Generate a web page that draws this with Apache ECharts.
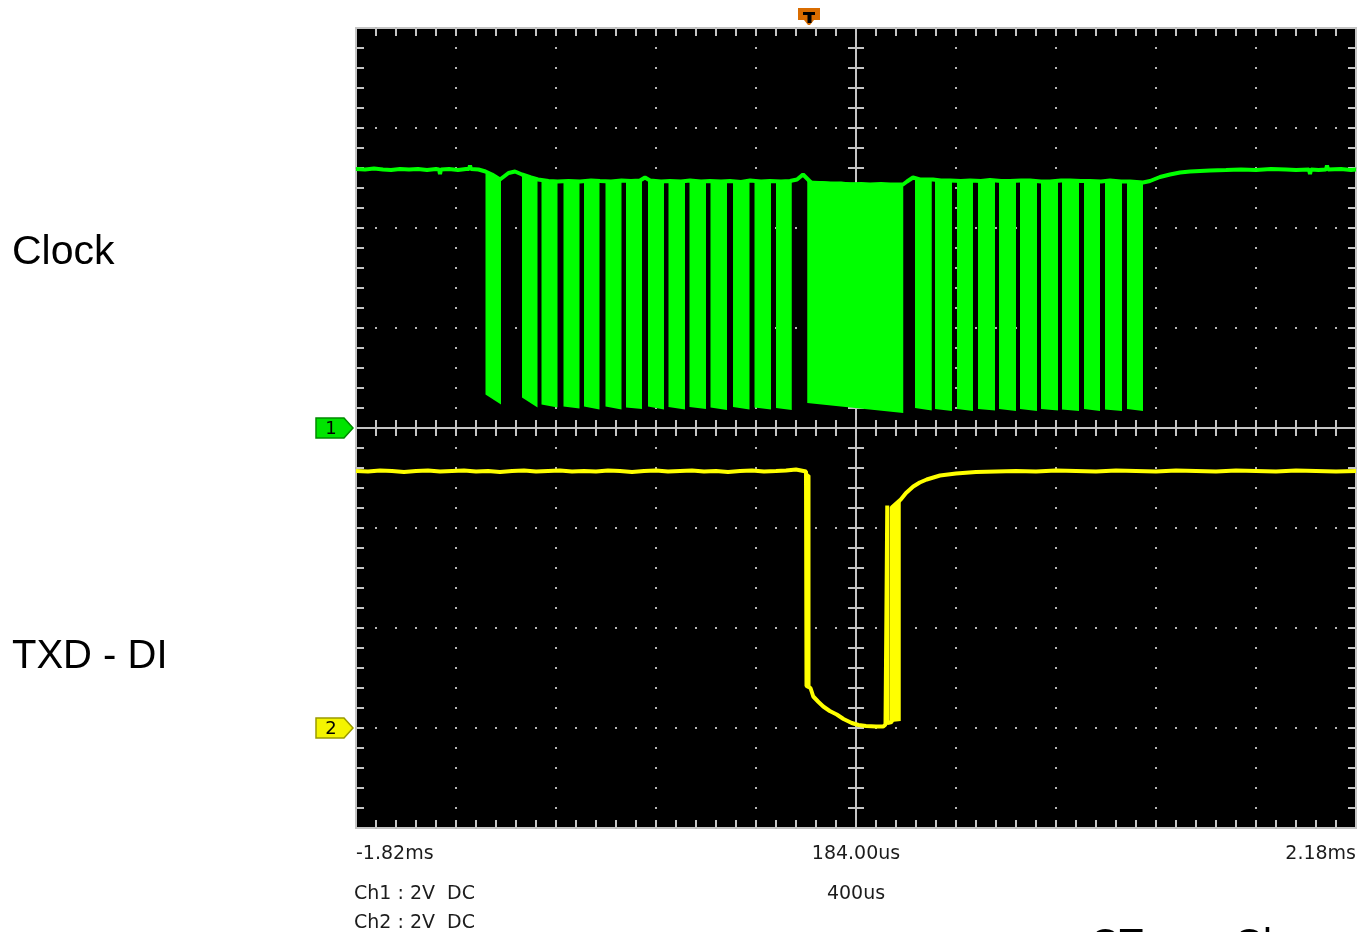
<!DOCTYPE html>
<html><head><meta charset="utf-8">
<script src="https://cdn.jsdelivr.net/npm/echarts@6/dist/echarts.min.js"></script>
<style>html,body{margin:0;padding:0;background:#fff;}#c{width:1359px;height:932px;}</style>
</head><body><div id="c"></div>
<script>
// Time axis: microseconds from the left edge of the screen (screen = 4000 us, -1.816 ms ... +2.184 ms)
const xTickLabels = {0: '-1.82ms', 2000: '184.00us', 4000: '2.18ms'};
const channelNames = ['Clock', 'TXD - DI'];
const scaleTexts = ['Ch1 : 2V  DC', 'Ch2 : 2V  DC'];
const timebaseText = '400us';
const triggerTimeUs = 1816;

// Channel 1 (Clock) idle / top envelope [t_us, volts]
const ch1Trace = [[0,5.18],[36,5.17],[72,5.19],[108,5.17],[140,5.16],[176,5.18],[212,5.17],[248,5.18],[284,5.16],[320,5.18],[332,5.17],[336,5.08],[340,5.17],[372,5.18],[408,5.16],[440,5.18],[452,5.18],[456,5.25],[460,5.18],[490,5.17],[518,5.13],[544,5.07],[576,4.97],[584,5.01],[610,5.10],[636,5.13],[664,5.07],[700,5.01],[728,4.97],[770,4.94],[806,4.93],[850,4.94],[896,4.93],[940,4.95],[976,4.94],[1020,4.93],[1062,4.95],[1100,4.94],[1136,4.95],[1156,5.01],[1176,4.95],[1220,4.93],[1256,4.94],[1300,4.93],[1336,4.95],[1380,4.93],[1416,4.94],[1460,4.93],[1496,4.94],[1540,4.92],[1576,4.95],[1620,4.93],[1656,4.94],[1700,4.93],[1736,4.94],[1764,4.97],[1788,5.07],[1808,4.97],[1824,4.89],[1860,4.90],[1896,4.88],[1940,4.89],[1976,4.87],[2020,4.88],[2056,4.87],[2100,4.88],[2136,4.87],[2188,4.87],[2204,4.93],[2228,5.01],[2256,4.97],[2308,4.97],[2340,4.95],[2376,4.95],[2420,4.94],[2456,4.95],[2500,4.94],[2536,4.96],[2580,4.94],[2616,4.94],[2660,4.95],[2696,4.95],[2740,4.93],[2776,4.93],[2820,4.95],[2856,4.95],[2900,4.94],[2936,4.94],[2980,4.93],[3016,4.95],[3060,4.93],[3096,4.93],[3148,4.91],[3176,4.94],[3216,5.02],[3256,5.07],[3296,5.11],[3336,5.13],[3376,5.14],[3416,5.15],[3480,5.16],[3540,5.17],[3600,5.16],[3660,5.18],[3720,5.17],[3760,5.16],[3812,5.17],[3816,5.08],[3820,5.17],[3850,5.16],[3880,5.17],[3884,5.25],[3888,5.17],[3940,5.18],[3980,5.16],[4000,5.17]];

// Channel 1 clock bursts (dense toggling regions)
const ch1BurstStart   = [518, 664, 742, 830, 912, 998,1080,1168,1250,1334,1418,1508,1594,1680,1805,2236,2316,2404,2488,2572,2656,2740,2824,2912,2996,3084];
const ch1BurstEnd     = [580, 726, 806, 894, 974,1062,1144,1232,1316,1400,1484,1574,1660,1743,2189,2303,2384,2468,2556,2640,2724,2808,2892,2976,3064,3148];
const ch1BurstTopStart= [5.13,5.07,4.94,4.93,4.94,4.94,4.95,4.95,4.94,4.95,4.94,4.94,4.95,4.93,4.95,5.00,4.95,4.94,4.95,4.94,4.95,4.93,4.95,4.94,4.95,4.93];
const ch1BurstTopEnd  = [4.97,4.97,4.93,4.93,4.94,4.95,4.95,4.94,4.94,4.94,4.94,4.94,4.94,4.94,4.87,4.97,4.95,4.95,4.95,4.94,4.95,4.93,4.95,4.94,4.94,4.91];
const ch1BurstLowStart= [0.67,0.61,0.47,0.43,0.43,0.43,0.41,0.43,0.42,0.42,0.41,0.42,0.41,0.40,0.50,0.40,0.38,0.38,0.38,0.38,0.38,0.38,0.37,0.38,0.37,0.38];
const ch1BurstLowEnd  = [0.47,0.41,0.41,0.39,0.37,0.37,0.38,0.37,0.37,0.38,0.36,0.37,0.37,0.36,0.30,0.35,0.34,0.34,0.35,0.34,0.34,0.35,0.34,0.34,0.34,0.34];

// Channel 2 (TXD - DI) [t_us, volts]
const ch2Trace = [[0,5.14],[48,5.13],[96,5.15],[144,5.14],[192,5.12],[240,5.14],[288,5.15],[336,5.13],[384,5.14],[432,5.15],[480,5.13],[528,5.14],[576,5.12],[624,5.14],[672,5.15],[720,5.13],[768,5.14],[816,5.15],[864,5.13],[912,5.14],[960,5.13],[1008,5.15],[1056,5.14],[1104,5.12],[1152,5.14],[1200,5.15],[1248,5.13],[1296,5.14],[1344,5.15],[1392,5.13],[1440,5.14],[1488,5.12],[1536,5.14],[1584,5.15],[1632,5.13],[1680,5.14],[1720,5.15],[1760,5.17],[1790,5.14],[1800,5.13],[1802,5.12],[1802,0.84],[1818,0.80],[1829,0.63],[1850,0.52],[1869,0.43],[1895,0.34],[1923,0.27],[1950,0.18],[1983,0.10],[2010,0.06],[2040,0.04],[2080,0.03],[2109,0.03],[2118,0.07],[2124,0.09],[2125,4.45],[2126,0.10],[2143,0.12],[2143,4.41],[2179,4.57],[2200,4.70],[2229,4.83],[2255,4.91],[2283,4.97],[2336,5.05],[2400,5.09],[2480,5.12],[2560,5.13],[2640,5.14],[2720,5.13],[2800,5.15],[2880,5.14],[2960,5.13],[3040,5.15],[3120,5.14],[3200,5.13],[3280,5.15],[3360,5.14],[3440,5.13],[3520,5.15],[3600,5.14],[3680,5.13],[3760,5.15],[3840,5.14],[3920,5.13],[4000,5.14]];
// Channel 2 edge bands (overlapping edges)
const ch2BandStart    = [1802, 2143];
const ch2BandEnd      = [1818, 2179];
const ch2BandTopStart = [5.12, 4.41];
const ch2BandTopEnd   = [5.05, 4.57];
const ch2BandLowStart = [0.84, 0.12];
const ch2BandLowEnd   = [0.80, 0.14];

const GRID = '#c4c4c4';
const DOT = '#b4b4b4';
const GREEN = '#00ff00';
const YELLOW = '#ffff00';

function rows(s, e, ts, te, ls, le) {
  return s.map((v, i) => [v, e[i], ts[i], te[i], ls[i], le[i]]);
}
function bandRenderer(color) {
  return function (params, api) {
    const a = api.coord([api.value(0), api.value(2)]);
    const b = api.coord([api.value(1), api.value(3)]);
    const c = api.coord([api.value(1), api.value(5)]);
    const d = api.coord([api.value(0), api.value(4)]);
    return {type: 'polygon', shape: {points: [a, b, c, d]}, style: {fill: color}};
  };
}
const tickCommon = {show: true, inside: true, length: 8, lineStyle: {color: GRID, width: 2}};
const minorCommon = {show: true, splitNumber: 5, length: 8, lineStyle: {color: GRID, width: 2}};
const dotted = {show: true, lineStyle: {color: DOT, width: 2, type: [2, 18], dashOffset: 1}};

function xAx(extra) {
  return Object.assign({
    type: 'value', gridIndex: 0, min: 0, max: 4000, interval: 400,
    axisLine: {show: false, onZero: false},
    axisTick: tickCommon, minorTick: minorCommon,
    axisLabel: {show: false}, splitLine: {show: false}
  }, extra);
}
function yAx(extra) {
  return Object.assign({
    type: 'value', gridIndex: 0,
    axisLine: {show: false, onZero: false},
    axisTick: tickCommon, minorTick: minorCommon,
    axisLabel: {show: false}, splitLine: {show: false}
  }, extra);
}

const option = {
  animation: false,
  backgroundColor: '#ffffff',
  grid: {left: 356, top: 28, width: 1000, height: 800, show: true, backgroundColor: '#000000', borderColor: GRID, borderWidth: 2},
  xAxis: [
    xAx({position: 'bottom', splitLine: dotted,
      axisLabel: {show: true, interval: 0, margin: 17, fontSize: 19, color: '#1c1c1c', fontFamily: '"DejaVu Sans"',
        showMinLabel: true, showMaxLabel: true, alignMinLabel: 'left', alignMaxLabel: 'right',
        formatter: v => (xTickLabels[v] !== undefined ? xTickLabels[v] : '')}}),
    xAx({position: 'top'}),
    xAx({position: 'bottom', offset: -400, axisLine: {show: true, onZero: false, lineStyle: {color: GRID, width: 2}}}),
    xAx({position: 'top', offset: -400, axisLine: {show: true, onZero: false, lineStyle: {color: GRID, width: 2}}})
  ],
  yAxis: [
    yAx({position: 'left', min: -8, max: 8, interval: 2, splitLine: dotted}),
    yAx({position: 'right', min: -2, max: 14, interval: 2}),
    yAx({position: 'left', offset: -500, min: 0, max: 8, interval: 1, axisLine: {show: true, onZero: false, lineStyle: {color: GRID, width: 2}}}),
    yAx({position: 'right', offset: -500, min: 0, max: 8, interval: 1, axisLine: {show: true, onZero: false, lineStyle: {color: GRID, width: 2}}})
  ],
  series: [
    {type: 'custom', name: 'ch1 bursts', xAxisIndex: 0, yAxisIndex: 0, silent: true, z: 3,
      renderItem: bandRenderer(GREEN), encode: {x: [0, 1], y: [2, 3, 4, 5]},
      data: rows(ch1BurstStart, ch1BurstEnd, ch1BurstTopStart, ch1BurstTopEnd, ch1BurstLowStart, ch1BurstLowEnd)},
    {type: 'line', name: channelNames[0], xAxisIndex: 0, yAxisIndex: 0, silent: true, z: 4,
      symbol: 'none', showSymbol: false, lineStyle: {color: GREEN, width: 4}, data: ch1Trace},
    {type: 'custom', name: 'ch2 bands', xAxisIndex: 0, yAxisIndex: 1, silent: true, z: 3,
      renderItem: bandRenderer(YELLOW), encode: {x: [0, 1], y: [2, 3, 4, 5]},
      data: rows(ch2BandStart, ch2BandEnd, ch2BandTopStart, ch2BandTopEnd, ch2BandLowStart, ch2BandLowEnd)},
    {type: 'line', name: channelNames[1], xAxisIndex: 0, yAxisIndex: 1, silent: true, z: 4,
      symbol: 'none', showSymbol: false, lineStyle: {color: YELLOW, width: 4}, data: ch2Trace}
  ]
};

const chart = echarts.init(document.getElementById('c'));
chart.setOption(option);

const tx = chart.convertToPixel({xAxisIndex: 0}, triggerTimeUs);
const gx = chart.convertToPixel({xAxisIndex: 0}, 0);
const y1 = chart.convertToPixel({yAxisIndex: 0}, 0);
const y2 = chart.convertToPixel({yAxisIndex: 1}, 0);

function chanMarker(label, y, fill, stroke) {
  return {type: 'group', x: gx - 3, y: y, children: [
    {type: 'polygon', shape: {points: [[-37, -10], [-9, -10], [0, 0], [-9, 10], [-37, 10]]}, style: {fill: fill, stroke: stroke, lineWidth: 1.5}},
    {type: 'text', style: {text: label, x: -22, y: 1, align: 'center', verticalAlign: 'middle', font: '18px "DejaVu Sans"', fill: '#000'}}
  ]};
}
const txtFont = '19px "DejaVu Sans"';
chart.setOption({
  graphic: [
    {type: 'text', style: {text: channelNames[0], x: 12, y: 253, verticalAlign: 'middle', font: '41px "Liberation Sans"', fill: '#000'}},
    {type: 'text', style: {text: channelNames[1], x: 12, y: 657, verticalAlign: 'middle', font: '40px "Liberation Sans"', fill: '#000'}},
    {type: 'text', style: {text: scaleTexts[0], x: 354, y: 894, verticalAlign: 'middle', font: txtFont, fill: '#1c1c1c'}},
    {type: 'text', style: {text: scaleTexts[1], x: 354, y: 923, verticalAlign: 'middle', font: txtFont, fill: '#1c1c1c'}},
    {type: 'text', style: {text: timebaseText, x: 856, y: 894, align: 'center', verticalAlign: 'middle', font: txtFont, fill: '#1c1c1c'}},
    {type: 'text', style: {text: 'CT', x: 1090, y: 926, verticalAlign: 'top', font: '40px "Liberation Sans"', fill: '#000'}},
    {type: 'text', style: {text: 'Cl', x: 1234, y: 926, verticalAlign: 'top', font: '40px "Liberation Sans"', fill: '#000'}},
    chanMarker('1', y1, '#00e400', '#008a00'),
    chanMarker('2', y2, '#f4f400', '#9a9a00'),
    {type: 'group', x: tx - 1, y: 8, children: [
      {type: 'polygon', shape: {points: [[-11, 0], [11, 0], [11, 12], [5, 12], [1, 17], [-1, 17], [-5, 12], [-11, 12]]}, style: {fill: '#d96c00'}},
      {type: 'rect', shape: {x: -6, y: 4, width: 12, height: 3}, style: {fill: '#000'}},
      {type: 'rect', shape: {x: -1.5, y: 7, width: 4, height: 8}, style: {fill: '#000'}}
    ]}
  ]
});
</script>
</body></html>
